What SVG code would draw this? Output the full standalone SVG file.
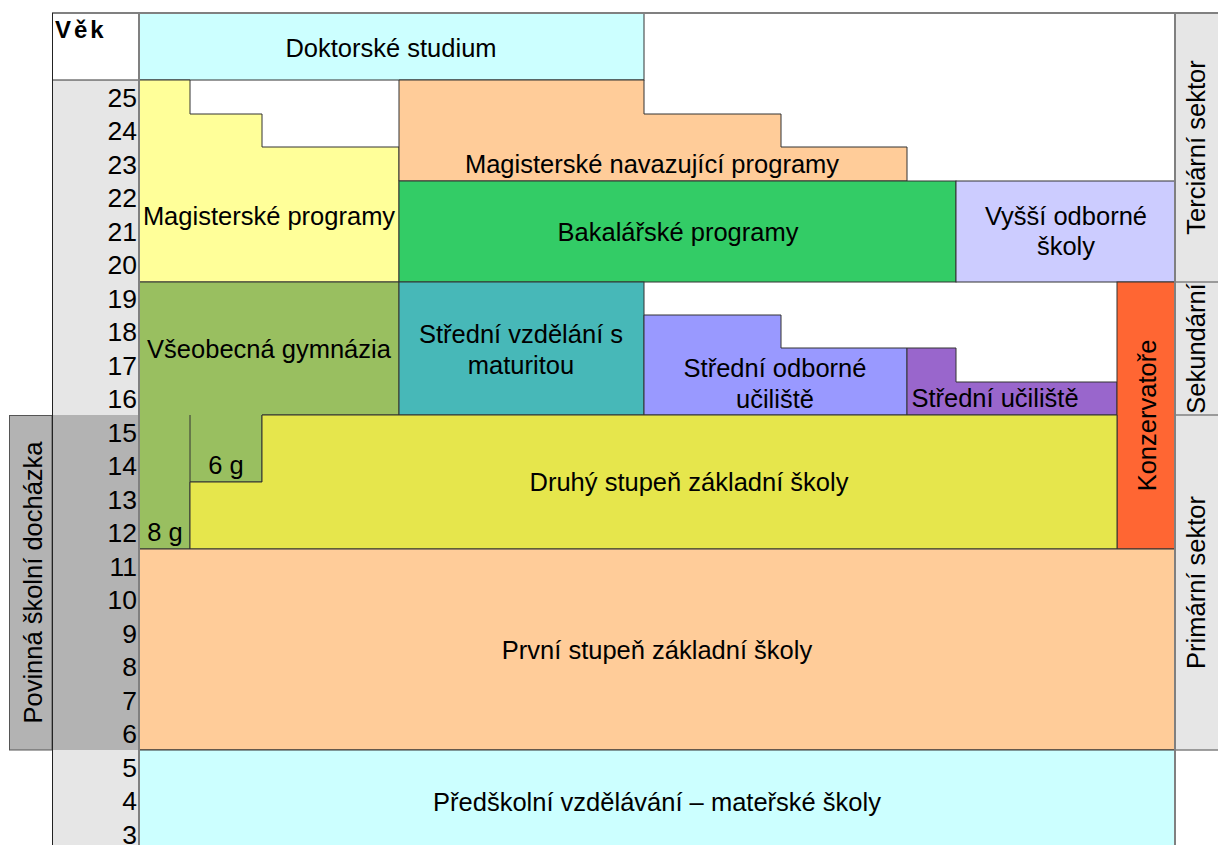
<svg xmlns="http://www.w3.org/2000/svg" width="1218" height="845" viewBox="0 0 1218 845">
<style>
text{font-family:"Liberation Sans",Arial,sans-serif;font-size:25.5px;fill:#000}
.c{text-anchor:middle}
.n{text-anchor:end;font-size:26.5px}
.b{stroke:#333;stroke-width:1}
.g{stroke:#808080;stroke-width:2;fill:none}
</style>
<rect width="1218" height="845" fill="#fff"/>
<g id="axis-left">
<rect x="52" y="13" width="87" height="67" fill="#fff"/>
<rect x="52" y="80" width="87" height="335" fill="#e6e6e6"/>
<rect x="52" y="415" width="87" height="335" fill="#b3b3b3"/>
<rect x="52" y="750" width="87" height="100" fill="#e6e6e6"/>
<text x="55" y="38" style="font-weight:bold;font-size:24px;letter-spacing:3px">Věk</text>
<g>
<text x="137" y="106.5" class="n">25</text><text x="137" y="140" class="n">24</text><text x="137" y="173.5" class="n">23</text><text x="137" y="207" class="n">22</text><text x="137" y="240.5" class="n">21</text><text x="137" y="274" class="n">20</text><text x="137" y="307.5" class="n">19</text><text x="137" y="341" class="n">18</text><text x="137" y="374.5" class="n">17</text><text x="137" y="408" class="n">16</text><text x="137" y="441.5" class="n">15</text><text x="137" y="475" class="n">14</text><text x="137" y="508.5" class="n">13</text><text x="137" y="542" class="n">12</text><text x="137" y="575.5" class="n">11</text><text x="137" y="609" class="n">10</text><text x="137" y="642.5" class="n">9</text><text x="137" y="676" class="n">8</text><text x="137" y="709.5" class="n">7</text><text x="137" y="743" class="n">6</text><text x="137" y="776.5" class="n">5</text><text x="137" y="810" class="n">4</text><text x="137" y="843.5" class="n">3</text>
</g>
</g>
<g id="povinna">
<rect x="9.5" y="415.5" width="42.5" height="334.5" fill="#b3b3b3" stroke="#555" stroke-width="1"/>
<text class="c" transform="translate(42,582.5) rotate(-90)">Povinná školní docházka</text>
</g>
<g id="axis-right">
<rect x="1175" y="13" width="43" height="737" fill="#e6e6e6"/>
<line x1="1175" y1="282" x2="1218" y2="282" class="g" style="stroke-width:1.5"/>
<line x1="1175" y1="415" x2="1218" y2="415" class="g" style="stroke-width:1.5"/>
<line x1="1175" y1="750" x2="1218" y2="750" class="g" style="stroke-width:1.5"/>
<text class="c" transform="translate(1205,147.5) rotate(-90)">Terciární sektor</text>
<text class="c" transform="translate(1205,348.5) rotate(-90)">Sekundární</text>
<text class="c" transform="translate(1205,582.5) rotate(-90)">Primární sektor</text>
</g>
<g id="doktorske">
<rect x="139" y="13" width="505" height="67" fill="#ccffff" class="b"/>
<text x="391" y="57" class="c">Doktorské studium</text>
</g>
<g id="magisterske">
<polygon points="139,80 190,80 190,114 262,114 262,147 399,147 399,282 139,282" fill="#ffff99" class="b"/>
<text x="269" y="225" class="c">Magisterské programy</text>
</g>
<g id="navazujici">
<polygon points="399,80 644,80 644,114 781,114 781,147 907,147 907,181 399,181" fill="#ffcc99" class="b"/>
<text x="652" y="173" class="c">Magisterské navazující programy</text>
</g>
<g id="bakalarske">
<rect x="399" y="181" width="557" height="101" fill="#33cc66" class="b"/>
<text x="678" y="241" class="c">Bakalářské programy</text>
</g>
<g id="vos">
<rect x="956" y="181" width="219" height="101" fill="#ccccff" class="b"/>
<text x="1066" y="225" class="c">Vyšší odborné</text>
<text x="1066" y="255" class="c">školy</text>
</g>
<g id="gymnazia">
<polygon points="139,282 399,282 399,415 262,415 262,482 190,482 190,549 139,549" fill="#99bf60" class="b"/>
<line x1="190" y1="415" x2="190" y2="482" class="b"/>
<text x="269" y="358" class="c">Všeobecná gymnázia</text>
<text x="226" y="474" class="c">6 g</text>
<text x="165" y="541" class="c">8 g</text>
</g>
<g id="maturita">
<rect x="399" y="282" width="245" height="133" fill="#47b8b8" class="b"/>
<text x="521" y="343" class="c">Střední vzdělání s</text>
<text x="521" y="374" class="c">maturitou</text>
</g>
<g id="sou">
<polygon points="644,315 781,315 781,348 907,348 907,415 644,415" fill="#9999ff" class="b"/>
<text x="775" y="377" class="c">Střední odborné</text>
<text x="775" y="408" class="c">učiliště</text>
</g>
<g id="su">
<polygon points="907,348 956,348 956,382 1117,382 1117,415 907,415" fill="#9966cc" class="b"/>
<text x="995" y="407" class="c">Střední učiliště</text>
</g>
<g id="konzervatore">
<rect x="1117" y="282" width="58" height="267" fill="#ff6633" class="b"/>
<text class="c" transform="translate(1156,415.5) rotate(-90)">Konzervatoře</text>
</g>
<g id="druhy">
<polygon points="262,415 1117,415 1117,549 190,549 190,482 262,482" fill="#e6e64c" class="b"/>
<text x="689" y="491" class="c">Druhý stupeň základní školy</text>
</g>
<g id="prvni">
<rect x="139" y="549" width="1036" height="201" fill="#ffcc99" class="b"/>
<text x="657" y="659" class="c">První stupeň základní školy</text>
</g>
<g id="predskolni">
<rect x="139" y="750" width="1036" height="100" fill="#ccffff" class="b"/>
<text x="657" y="811" class="c">Předškolní vzdělávání – mateřské školy</text>
</g>
<g id="frame">
<line x1="52" y1="13" x2="1218" y2="13" class="g"/>
<line x1="52" y1="80" x2="139" y2="80" class="b"/>
<line x1="52.5" y1="13" x2="52.5" y2="845" stroke="#222" stroke-width="1"/>
<line x1="139" y1="13" x2="139" y2="845" class="g"/>
<line x1="1175" y1="13" x2="1175" y2="845" class="g"/>
</g>
</svg>
